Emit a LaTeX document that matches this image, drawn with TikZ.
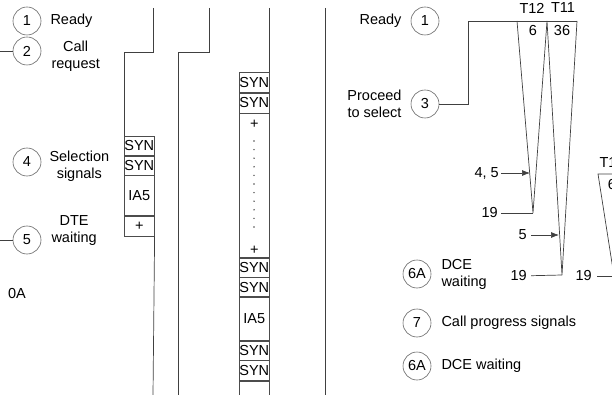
\documentclass[tikz,border=0pt]{standalone}
\usepackage{fontspec}
\setmainfont{Liberation Sans}
\usetikzlibrary{positioning,arrows.meta}

\begin{document}
\begin{tikzpicture}[
    x=1pt,
    y=-1pt,
    every node/.style={
        font=\fontsize{14.5}{17}\selectfont,
        inner sep=0pt
    },
    event/.style={
        circle,
        draw=black!60,
        line width=0.6pt,
        minimum size=28pt
    },
    cell/.style={
        rectangle,
        draw=black!70,
        line width=0.6pt,
        minimum width=30pt,
        anchor=north west
    },
    line/.style={
        draw=black!75,
        line width=0.7pt
    },
    arrow/.style={
        line,
        -{Latex[length=8pt,width=6pt]}
    },
    note/.style={
        align=center
    },
    dot/.style={
        circle,
        fill=black!70,
        minimum size=1.6pt
    }
]
\clip (0,0) rectangle (612,395);

% DTE side events
\node [event] (rdy) at (27,21) {1};
\node [right=9pt of rdy] (rdytxt) {Ready};
\node [event] (callreq) at (27,51) {2};
\node [note, right=10pt of callreq, yshift=-5pt] (callreqtxt) {Call\\request};
\node [event] (selsig) at (27,162) {4};
\node [note, right=8pt of selsig, yshift=-4pt] (selsigtxt) {Selection\\signals};
\node [event] (dtewait) at (27,240) {5};
\node [note, right=10pt of dtewait, yshift=9pt] (dtewaittxt) {DTE\\waiting};
\node (oa) at (17,294) {0A};
\coordinate (callin) at (0,51);
\coordinate (dtein) at (0,240);
\draw [line] (callin) -- (callreq);
\draw [line] (dtein) -- (dtewait);

% DTE line with selection
\coordinate (dtetop) at (153,8);
\coordinate (dtestep) at (153,52);
\coordinate (dteoff) at (124,52);
\coordinate (dtebot) at (153,395);
\node [cell, minimum height=19pt] (syna) at (124,136) {SYN};
\node [cell, minimum height=19pt, below=0pt of syna] (synb) {SYN};
\node [cell, minimum height=40pt, below=0pt of synb] (iaa) {IA5};
\node [cell, minimum height=20pt, below=0pt of iaa] (plusa) {+};
\draw [line] (dtetop) -- (dtestep) -- (dteoff) -- (syna.north west);
\draw [line] (plusa.south east) -- (dtebot);

% DCE line
\coordinate (dcetop) at (209,8);
\coordinate (dcestep) at (209,52);
\coordinate (dceoff) at (178,52);
\coordinate (dcebot) at (178,395);
\draw [line] (dcetop) -- (dcestep) -- (dceoff) -- (dcebot);

% Line with block of characters
\coordinate (blktop) at (269,8);
\coordinate (blkbot) at (269,395);
\draw [line] (blktop) -- (blkbot);
\node [cell, minimum height=20pt] (sync) at (239,72) {SYN};
\node [cell, minimum height=20pt, below=0pt of sync] (synd) {SYN};
\node [cell, minimum height=144pt, below=0pt of synd] (fill) {};
\node [cell, minimum height=19pt, below=0pt of fill] (syne) {SYN};
\node [cell, minimum height=19pt, below=0pt of syne] (synf) {SYN};
\node [cell, minimum height=43pt, below=0pt of synf] (iab) {IA5};
\node [cell, minimum height=19pt, below=0pt of iab] (syng) {SYN};
\node [cell, minimum height=20pt, below=0pt of syng] (synh) {SYN};
\node [cell, minimum height=30pt, below=0pt of synh] (rest) {};
\node [below=7pt of fill.north] (plusb) {+};
\node [above=3pt of fill.south] (plusc) {+};
\foreach \k in {0,...,10}
    \node [dot] at (254,141+8.6*\k) {};

% Divider
\coordinate (divtop) at (325,8);
\coordinate (divbot) at (325,395);
\draw [line] (divtop) -- (divbot);

% DCE side events
\node [event] (rdyb) at (425,21) {1};
\node [left=9pt of rdyb] (rdybtxt) {Ready};
\node [event] (proceed) at (425,104) {3};
\node [note, left=9pt of proceed, align=right] (proceedtxt) {Proceed\\to select};
\node [event] (dcewaita) at (417,274) {6A};
\node [right=10pt of dcewaita, align=left] (dcewaitatxt) {DCE\\waiting};
\node [event] (progress) at (417,323) {7};
\node [right=10pt of progress] (progresstxt) {Call progress signals};
\node [event] (dcewaitb) at (417,366) {6A};
\node [right=10pt of dcewaitb] (dcewaitbtxt) {DCE waiting};

% Timers
\coordinate (jog) at (468,104);
\coordinate (jogtop) at (468,21);
\coordinate (ta) at (517,21);
\coordinate (tb) at (547,21);
\coordinate (tc) at (577,21);
\coordinate (tapex) at (533,213);
\coordinate (tbapex) at (562,275);
\draw [line] (proceed) -- (jog) -- (jogtop) -- (tc);
\draw [line] (ta) -- (tapex) -- (tb) -- (tbapex) -- (tc);
\node (ttwelve) at (532,8) {T12};
\node (televen) at (563,8) {T11};
\node (six) at (533,31) {6};
\node (thirtysix) at (562,31) {36};

\node [anchor=east] (fourfive) at (499,173) {4, 5};
\coordinate (hitfourfive) at (530,173);
\draw [arrow, shorten <=2pt] (fourfive) -- (hitfourfive);
\node [anchor=east] (ninetya) at (498,213) {19};
\draw [line, shorten <=3pt] (ninetya) -- (tapex);
\node [anchor=east] (five) at (527,235) {5};
\coordinate (hitfive) at (559,235);
\draw [arrow, shorten <=4pt] (five) -- (hitfive);
\node [anchor=east] (ninetyb) at (527,276) {19};
\draw [line, shorten <=4pt] (ninetyb) -- (tbapex);

% Next timer (cut off)
\coordinate (tda) at (598,174);
\coordinate (tdb) at (628,174);
\coordinate (tdapex) at (614,276);
\draw [line] (tdb) -- (tda) -- (tdapex);
\node (ttwelveb) at (612,162) {T12};
\node (sixb) at (612,185) {6};
\node [anchor=east] (ninetyc) at (592,276) {19};
\draw [line, shorten <=5pt] (ninetyc) -- (tdapex);

\end{tikzpicture}
\end{document}
